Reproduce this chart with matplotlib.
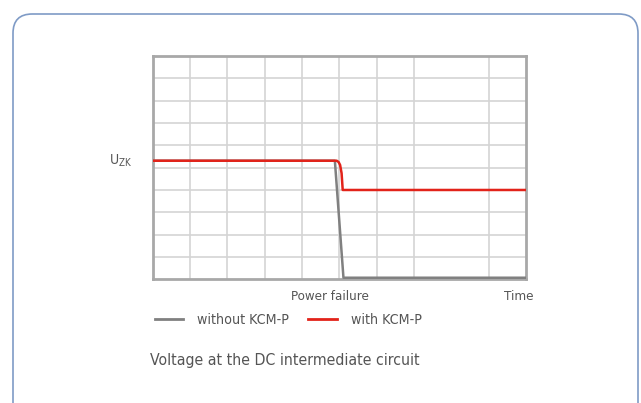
import matplotlib.pyplot as plt
from matplotlib.patches import FancyBboxPatch
from matplotlib.lines import Line2D

plt.rcParams['font.family'] = ['DejaVu Sans']
plt.rcParams['font.stretch'] = 'condensed'

# data (grid units: x 0..10 time, y 0..10 voltage)
x_without = [0, 4.88, 5.11, 10]
y_without = [5.31, 5.31, 0.07, 0.07]
x_with = [0, 4.93, 4.98, 5.02, 5.06, 5.09, 10]
y_with = [5.31, 5.31, 5.25, 5.12, 4.75, 4.0, 4.0]
x_grid = [1, 2, 3, 4, 5, 6, 7, 9]
y_grid = [1, 2, 3, 4, 5, 6, 7, 8, 9]

gray = '#808080'
red = '#e2231a'
text_col = '#555555'

fig = plt.figure(figsize=(6.41, 4.03), dpi=100)

# rounded frame
frame = FancyBboxPatch((13 / 641, -20 / 403), 625 / 641, (403 - 14 + 20) / 403,
                       boxstyle='round,pad=0,rounding_size=0.03',
                       transform=fig.transFigure, fill=False,
                       edgecolor='#7f9bc6', linewidth=1.2, mutation_aspect=641 / 403)
fig.patches.append(frame)

ax = fig.add_axes([152.7 / 641, 123.7 / 403, 373.3 / 641, 223.3 / 403])
ax.set_xlim(0, 10)
ax.set_ylim(0, 10)
for gx in x_grid:
    ax.axvline(gx, color='#d4d4d4', linewidth=1.2, zorder=1)
for gy in y_grid:
    ax.axhline(gy, color='#d4d4d4', linewidth=1.2, zorder=1)
for s in ax.spines.values():
    s.set_color('#a8a8a8')
    s.set_linewidth(2)
ax.set_xticks([])
ax.set_yticks([])

ax.plot(x_without, y_without, color=gray, linewidth=1.8, zorder=3)
ax.plot(x_with, y_with, color=red, linewidth=1.8, zorder=4)

ax.text(-0.55, 5.3, r'U$_{\mathrm{ZK}}$', ha='right', va='center', fontsize=10, color=text_col)
ax.text(4.75, -0.75, 'Power failure', ha='center', va='center', fontsize=9.5, color=text_col)
ax.text(10.2, -0.75, 'Time', ha='right', va='center', fontsize=9.5, color=text_col)

handles = [Line2D([], [], color=gray, linewidth=2, label='without KCM-P'),
           Line2D([], [], color=red, linewidth=2, label='with KCM-P')]
fig.legend(handles=handles, loc='center left', bbox_to_anchor=(142 / 641, 1 - 320 / 403),
           ncol=2, frameon=False, fontsize=10.2, handlelength=2.0, handletextpad=1.0,
           columnspacing=1.35, labelcolor=text_col)

fig.text(150 / 641, 1 - 361 / 403, 'Voltage at the DC intermediate circuit',
         ha='left', va='center', fontsize=11.3, color=text_col)

fig.savefig('out.png', dpi=100)
